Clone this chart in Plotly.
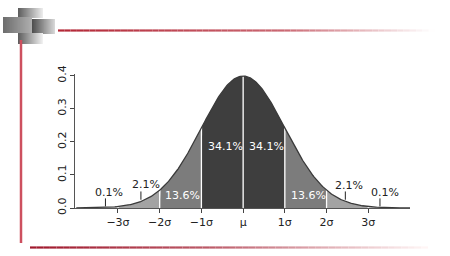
import numpy as np
import plotly.graph_objects as go

# ---- data ----
mu = 0.0
sigma = 1.0
region_bounds = [-4, -3, -2, -1, 0, 1, 2, 3, 4]
region_colors = ["#cfcfcf", "#a3a3a3", "#7c7c7c", "#3e3e3e", "#3e3e3e", "#7c7c7c", "#a3a3a3", "#cfcfcf"]
tick_vals = [-3, -2, -1, 0, 1, 2, 3]
tick_text = ["\u22123\u03c3", "\u22122\u03c3", "\u22121\u03c3", "\u03bc", "1\u03c3", "2\u03c3", "3\u03c3"]
y_ticks = [0.0, 0.1, 0.2, 0.3, 0.4]

pct_labels = ["0.1%", "2.1%", "13.6%", "34.1%", "34.1%", "13.6%", "2.1%", "0.1%"]
pct_x = [-3.21, -2.33, -1.45, -0.42, 0.55, 1.56, 2.53, 3.39]
pct_y = [0.048, 0.072, 0.0385, 0.185, 0.185, 0.0385, 0.069, 0.048]
pct_colors = ["#222", "#222", "white", "white", "white", "white", "#222", "#222"]

leader_x = [-3.3, -2.45, 2.45, 3.28]
leader_y0 = [0.005, 0.025, 0.025, 0.005]
leader_y1 = [0.029, 0.050, 0.050, 0.029]


def pdf(x):
    return np.exp(-0.5 * ((x - mu) / sigma) ** 2) / (sigma * np.sqrt(2 * np.pi))


fig = go.Figure()

# filled regions
for i in range(len(region_bounds) - 1):
    a, b = region_bounds[i], region_bounds[i + 1]
    xs = np.linspace(a, b, 60)
    ys = pdf(xs)
    px = np.concatenate([[a], xs, [b]])
    py = np.concatenate([[0], ys, [0]])
    fig.add_trace(go.Scatter(x=px, y=py, fill="toself", fillcolor=region_colors[i],
                             mode="lines", line=dict(width=0), hoverinfo="skip", showlegend=False))

# white separators
for v in tick_vals:
    fig.add_trace(go.Scatter(x=[v, v], y=[0, pdf(v)], mode="lines",
                             line=dict(color="white", width=1.3), hoverinfo="skip", showlegend=False))

# outline curve
xc = np.linspace(-4, 4, 400)
fig.add_trace(go.Scatter(x=xc, y=pdf(xc), mode="lines", line=dict(color="#3a3a3a", width=1.3),
                         hoverinfo="skip", showlegend=False))

# leader ticks
for lx, a, b in zip(leader_x, leader_y0, leader_y1):
    fig.add_trace(go.Scatter(x=[lx, lx], y=[a, b], mode="lines", line=dict(color="#222", width=1),
                             hoverinfo="skip", showlegend=False))

for t, x, y, c in zip(pct_labels, pct_x, pct_y, pct_colors):
    fig.add_annotation(x=x, y=y, text=t, showarrow=False, xref="x", yref="y",
                       font=dict(family="DejaVu Sans", size=11, color=c))

# ---- decorations (slide template) ----
W, H = 450, 256
L, R, T, B = 75, 40, 74, 48
pw, ph = W - L - R, H - T - B


def pxx(v):
    return (v - L) / pw


def pxy(v):
    return (H - B - v) / ph


shapes = []


def grad_rect(x0, y0, x1, y1, c0, c1, n=25):
    # overlapping rects, each from its start to the right edge -> no seams
    for k in range(n):
        f = k / (n - 1)
        col = tuple(int(c0[j] + (c1[j] - c0[j]) * f) for j in range(3))
        xa = x0 + (x1 - x0) * k / n
        shapes.append(dict(type="rect", xref="paper", yref="paper", x0=pxx(xa), x1=pxx(x1),
                           y0=pxy(y1), y1=pxy(y0), line=dict(width=0),
                           fillcolor="rgb(%d,%d,%d)" % col, layer="below"))


grad_rect(18, 8, 43, 18, (95, 95, 95), (235, 235, 235))
grad_rect(3, 17, 32, 33, (110, 110, 110), (175, 175, 175))
grad_rect(32, 19, 55, 34, (80, 80, 80), (215, 215, 215))
grad_rect(18, 33, 43, 44, (95, 95, 95), (240, 240, 240))


def grad_line(x0, x1, y, c0, c1, w, fade_start, n=60):
    for k in range(n):
        xa = x0 + (x1 - x0) * k / n
        xb = x0 + (x1 - x0) * (k + 1) / n
        f = k / (n - 1)
        if f < fade_start:
            g = f / fade_start * 0.3 if fade_start > 0 else 0
        else:
            g = 0.3 + 0.7 * (f - fade_start) / (1 - fade_start)
        col = tuple(int(c0[j] + (c1[j] - c0[j]) * g) for j in range(3))
        shapes.append(dict(type="line", xref="paper", yref="paper", x0=pxx(xa), x1=pxx(xb),
                           y0=pxy(y), y1=pxy(y), line=dict(color="rgb(%d,%d,%d)" % col, width=w),
                           layer="below"))


grad_line(58, 435, 30.5, (180, 40, 55), (255, 255, 255), 2.2, 0.6)
grad_line(30, 428, 247.5, (160, 25, 45), (255, 245, 245), 2.2, 0.45)
shapes.append(dict(type="line", xref="paper", yref="paper", x0=pxx(21), x1=pxx(21),
                   y0=pxy(40), y1=pxy(243), line=dict(color="rgb(205,80,95)", width=2.5),
                   layer="below"))

fig.update_layout(
    width=W, height=H,
    margin=dict(l=L, r=R, t=T, b=B),
    paper_bgcolor="white", plot_bgcolor="white",
    shapes=shapes,
    font=dict(family="DejaVu Sans", color="#222"),
    xaxis=dict(range=[-4.03, 4.0], tickvals=tick_vals, ticktext=tick_text, showgrid=False,
               zeroline=False, showline=True, linecolor="#555", linewidth=1,
               ticks="outside", ticklen=4, tickcolor="#444", tickfont=dict(size=11, color="#222")),
    yaxis=dict(range=[0, 0.405], tickvals=y_ticks, ticktext=["0.0", "0.1", "0.2", "0.3", "0.4"],
               showgrid=False, zeroline=False, showline=True, linecolor="#555", linewidth=1,
               ticks="outside", ticklen=4, tickcolor="#444", tickangle=-90,
               tickfont=dict(size=11, color="#222")),
)

fig.write_html("out.html")
